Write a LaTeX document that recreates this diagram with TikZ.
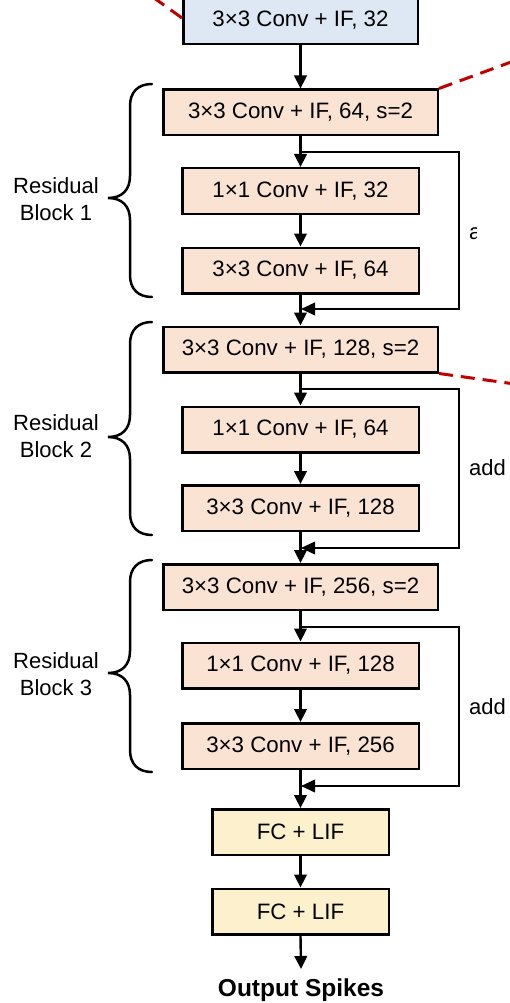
\documentclass[tikz,border=0pt]{standalone}
\usepackage{fontspec}
\setmainfont{Liberation Sans}
\usetikzlibrary{arrows.meta,calc}
\definecolor{blueF}{HTML}{DDE8F4}
\definecolor{peach}{HTML}{FBE3D4}
\definecolor{cream}{HTML}{FDF0CD}
\definecolor{dred}{HTML}{C00000}
\newcommand\resbrace[3]{%
  \draw[bracestyle] (152,#1) .. controls (138,#1) and (130,#1+8) .. (130,#1+22)
    -- (130,#2-22) .. controls (130,#2-8) and (122,#2) .. (108,#2)
    .. controls (122,#2) and (130,#2+8) .. (130,#2+22)
    -- (130,#3-22) .. controls (130,#3-8) and (138,#3) .. (152,#3);}
\begin{document}
\begin{tikzpicture}[x=1pt,y=-1pt,
  box/.style={draw=black, line width=2.5pt, font=\fontsize{22.3}{26}\selectfont, inner sep=0pt, minimum height=45.5pt, anchor=center},
  wide/.style={box, fill=peach, minimum width=274.5pt},
  narrow/.style={box, fill=peach, minimum width=236.5pt},
  first/.style={box, fill=blueF, minimum width=234.5pt, minimum height=48pt},
  fcbox/.style={box, fill=cream, minimum width=176.5pt},
  conn/.style={line width=2.4pt, -{Triangle[length=13pt,width=12.5pt]}},
  loopline/.style={line width=2.2pt},
  looparrow/.style={line width=2.2pt, -{Triangle[length=14pt,width=12.5pt]}},
  bracestyle/.style={line width=2.5pt, line cap=round},
  lbl/.style={font=\fontsize{22}{27}\selectfont, align=center},
  addlbl/.style={font=\fontsize{22}{26}\selectfont, anchor=west, inner sep=0pt},
  dashline/.style={draw=dred, line width=3pt, dash pattern=on 14pt off 8pt}
]
\useasboundingbox (0,0) rectangle (510,1003);
\fill[white] (0,0) rectangle (510,1003);

% red dashed lines (behind boxes)
\coordinate (d1) at (143,-10);
\coordinate (d2) at (522,58);
\coordinate (d3) at (522,385);
\coordinate (d1s) at (182,18);

% nodes
\node[first]  (top) at (300.5,20) {3×3 Conv + IF, 32};
\node[wide]   (b1a) at (300.5,112.5) {3×3 Conv + IF, 64, s=2};
\node[narrow] (b1b) at (300.5,191) {1×1 Conv + IF, 32};
\node[narrow] (b1c) at (300.5,270.5) {3×3 Conv + IF, 64};
\node[wide]   (b2a) at (300.5,349.5) {3×3 Conv + IF, 128, s=2};
\node[narrow] (b2b) at (300.5,429.5) {1×1 Conv + IF, 64};
\node[narrow] (b2c) at (300.5,508) {3×3 Conv + IF, 128};
\node[wide]   (b3a) at (300.5,587) {3×3 Conv + IF, 256, s=2};
\node[narrow] (b3b) at (300.5,665.5) {1×1 Conv + IF, 128};
\node[narrow] (b3c) at (300.5,746) {3×3 Conv + IF, 256};
\node[fcbox]  (fc1) at (300.5,832) {FC + LIF};
\node[fcbox]  (fc2) at (300.5,911.5) {FC + LIF};
\node[font=\fontsize{24.5}{28}\bfseries\selectfont] (out) at (301,990) {Output Spikes};
\coordinate (outc) at (301,969);

\draw[dashline] (d1s) -- (d1);
\draw[dashline] (b1a.north east) -- (d2);
\draw[dashline] (b2a.south east) -- (d3);

% main connectors
\draw[conn] (top.south) -- (b1a.north);
\draw[conn] (b1a.south) -- (b1b.north);
\draw[conn] (b1b.south) -- (b1c.north);
\draw[conn] (b1c.south) -- (b2a.north);
\draw[conn] (b2a.south) -- (b2b.north);
\draw[conn] (b2b.south) -- (b2c.north);
\draw[conn] (b2c.south) -- (b3a.north);
\draw[conn] (b3a.south) -- (b3b.north);
\draw[conn] (b3b.south) -- (b3c.north);
\draw[conn] (b3c.south) -- (fc1.north);
\draw[conn] (fc1.south) -- (fc2.north);
\draw[conn] (fc2.south) -- (outc);

% skip loops
\coordinate (s1) at (301,152); \coordinate (e1) at (301,309);
\coordinate (s2) at (301,389); \coordinate (e2) at (301,548);
\coordinate (s3) at (301,627); \coordinate (e3) at (301,786);
\draw[loopline] (s1) -- (459,152) -- (459,309) -- (320,309);
\draw[looparrow] (320,309) -- (e1);
\draw[loopline] (s2) -- (459,389) -- (459,548) -- (320,548);
\draw[looparrow] (320,548) -- (e2);
\draw[loopline] (s3) -- (459,627) -- (459,786) -- (320,786);
\draw[looparrow] (320,786) -- (e3);

% add labels
\begin{scope}
\clip (462,210) rectangle (476.5,255);
\node[addlbl] (add1) at (469,232) {add};
\end{scope}
\node[addlbl] (add2) at (469,468) {add};
\node[addlbl] (add3) at (469,707) {add};

% braces
\resbrace{84}{198}{297}
\resbrace{322}{437}{535}
\resbrace{560}{673}{772}
\node[lbl] (r1) at (56,199) {Residual\\Block 1};
\node[lbl] (r2) at (56,436) {Residual\\Block 2};
\node[lbl] (r3) at (56,674) {Residual\\Block 3};
\end{tikzpicture}
\end{document}
